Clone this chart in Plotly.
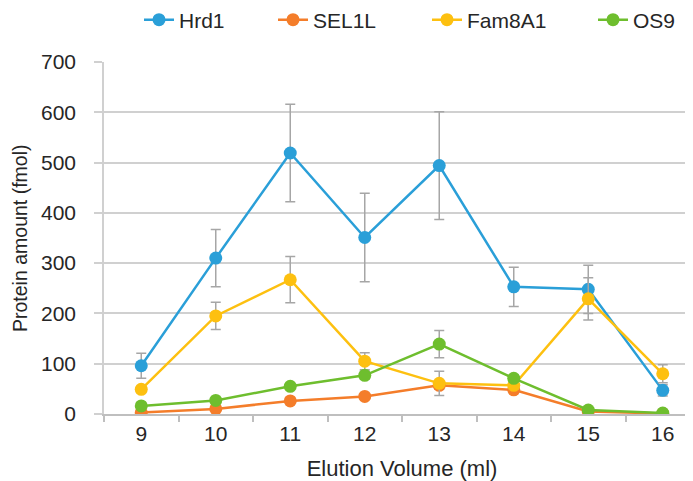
import plotly.graph_objects as go

elution = [9, 10, 11, 12, 13, 14, 15, 16]
series_names = ["Hrd1", "SEL1L", "Fam8A1", "OS9"]
hrd1 = [96, 310, 519, 351, 494, 253, 248, 47]
hrd1_err = [25, 57, 97, 88, 107, 39, 48, 11]
sel1l = [3, 10, 26, 35, 57, 48, 5, 1]
sel1l_err = [2, 3, 5, 5, 8, 6, 2, 1]
fam8a1 = [49, 195, 267, 105, 61, 57, 229, 80]
fam8a1_err = [6, 27, 46, 17, 24, 8, 42, 18]
os9 = [16, 27, 55, 77, 139, 71, 8, 2]
os9_err = [4, 5, 6, 8, 27, 7, 3, 1]
y_ticks = [0, 100, 200, 300, 400, 500, 600, 700]

colors = ["#2A9FD8", "#F47D2A", "#FDC010", "#6EBE2E"]
values = [hrd1, sel1l, fam8a1, os9]
errors = [hrd1_err, sel1l_err, fam8a1_err, os9_err]

FONT = "Liberation Sans, Arial, sans-serif"
TXT = "#262626"

W, H = 693, 481
ML, MR, MT, MB = 96, 1, 54, 75
PW = W - ML - MR
PH = H - MT - MB

legend_ids = ["legend", "legend2", "legend3", "legend4"]
legend_left_px = [131, 265, 419, 585]

fig = go.Figure()
for name, col, v, e, lg in zip(series_names, colors, values, errors, legend_ids):
    fig.add_trace(go.Scatter(
        x=elution, y=v, name=name, mode="lines+markers",
        line=dict(color=col, width=2.5),
        marker=dict(color=col, size=13),
        error_y=dict(type="data", array=e, visible=True,
                     color="#A6A6A6", thickness=1.5, width=5),
        legend=lg,
    ))

legends = {}
for lg, px in zip(legend_ids, legend_left_px):
    legends[lg] = dict(
        orientation="h", x=(px - ML) / PW, xref="paper", xanchor="left",
        y=1 - 12 / H, yref="container", yanchor="middle",
        font=dict(size=21, color=TXT, family=FONT),
        bgcolor="rgba(0,0,0,0)", borderwidth=0,
    )

fig.update_layout(
    width=W, height=H,
    margin=dict(l=ML, r=MR, t=MT, b=MB),
    paper_bgcolor="white", plot_bgcolor="white",
    font=dict(family=FONT, color=TXT, size=21),
    showlegend=True,
    **legends,
    xaxis=dict(
        range=[8.5, 16.5], tickmode="array", tickvals=elution,
        ticktext=[str(v) for v in elution],
        ticks="", showgrid=False, zeroline=False,
        showline=True, linecolor="#BFBFBF", linewidth=1.5,
        tickfont=dict(size=21, color=TXT),
        minor=dict(ticks="outside", tick0=8.5, dtick=1, ticklen=6,
                   tickcolor="#BFBFBF", tickwidth=1.5, showgrid=False),
        title=dict(text="Elution Volume (ml)", font=dict(size=22, color=TXT),
                   standoff=17),
    ),
    yaxis=dict(
        range=[0, 700], tickmode="array", tickvals=y_ticks,
        ticks="outside", ticklen=8, tickcolor="#D0D0D0", tickwidth=1.5,
        showgrid=True, gridcolor="#D0D0D0", gridwidth=1.5,
        zeroline=False, showline=True, linecolor="#D0D0D0", linewidth=1.5,
        tickfont=dict(size=21, color=TXT), ticklabelstandoff=14,
    ),
    annotations=[dict(
        text="Protein amount (fmol)", textangle=-90,
        xref="paper", x=0, xanchor="left", xshift=-ML,
        yref="paper", y=(H - MB - 230) / PH,
        yanchor="middle", showarrow=False, borderpad=0,
        font=dict(size=19.5, color=TXT, family=FONT),
    )],
)

fig.write_html("out.html")
